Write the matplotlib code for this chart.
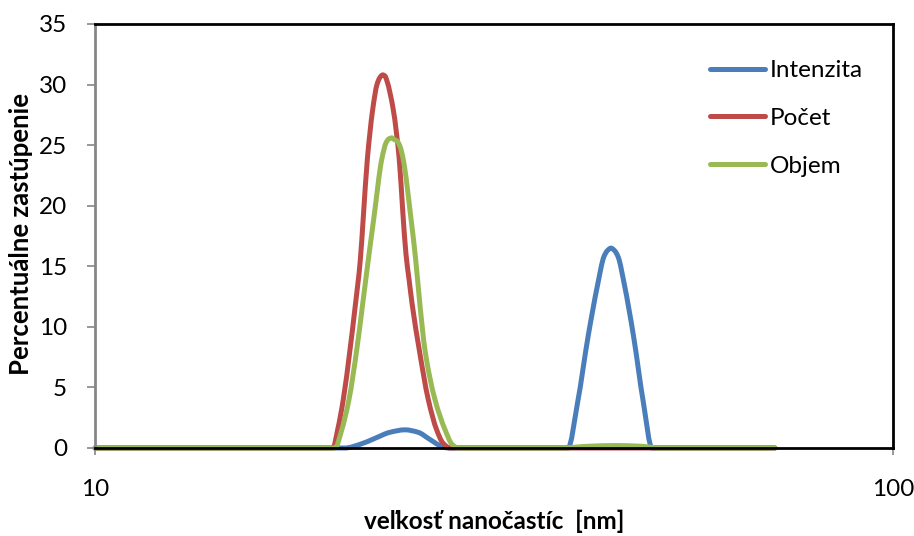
import numpy as np
import matplotlib
matplotlib.use("Agg")
import matplotlib.pyplot as plt
from matplotlib.path import Path
from matplotlib.patches import PathPatch
from matplotlib.lines import Line2D
from matplotlib.ticker import FixedLocator, NullLocator, FixedFormatter

plt.rcParams['font.family'] = ['Lato', 'DejaVu Sans']

# Particle size distribution (nm) for the three weightings
size_intenzita = [10.0, 20.57, 21.48, 22.43, 23.43, 24.46, 25.40, 26.29, 27.06, 27.70,
                  39.15, 40.26, 41.51, 42.65, 43.43, 43.87, 44.32, 44.77, 45.23, 46.06,
                  47.28, 48.65, 49.89, 71.13]
intenzita = [0, 0, 0.3, 0.8, 1.3, 1.5, 1.3, 0.7, 0.2, 0,
             0, 3.8, 9.3, 13.5, 15.8, 16.3, 16.5, 16.3, 15.8, 13.5,
             9.3, 3.8, 0, 0]

size_pocet = [10.0, 19.87, 20.14, 20.47, 20.87, 21.17, 21.50, 21.69, 21.94, 22.28,
              22.56, 22.76, 22.94, 23.09, 23.22, 23.65, 24.06, 24.30, 24.53, 24.75,
              24.98, 25.49, 26.16, 26.80, 27.30, 27.86, 71.13]
pocet = [0, 0, 1.5, 4.0, 8.1, 11.5, 15.5, 19.1, 23.8, 27.9,
         30.0, 30.6, 30.8, 30.7, 30.3, 27.9, 23.8, 19.6, 16.0, 13.9,
         11.8, 8.1, 4.0, 1.5, 0.4, 0, 0]

size_objem = [10.0, 19.99, 20.38, 20.81, 21.28, 21.64, 22.00, 22.37, 22.87, 23.16,
              23.33, 23.54, 23.73, 23.90, 24.11, 24.34, 24.87, 25.23, 25.54, 25.91,
              26.67, 27.46, 28.02, 28.51, 38.26, 41.72, 44.84, 48.19, 51.05, 71.13]
objem = [0, 0, 1.5, 4.0, 8.1, 11.8, 15.5, 19.1, 23.8, 25.2,
         25.5, 25.6, 25.45, 25.35, 24.9, 23.8, 19.1, 15.5, 11.8, 8.1,
         4.0, 1.5, 0.3, 0, 0, 0.15, 0.2, 0.15, 0, 0]

labels = ["Intenzita", "Počet", "Objem"]
sizes = [size_intenzita, size_pocet, size_objem]
values = [intenzita, pocet, objem]
colors = ["#4A7EBB", "#BE4B48", "#98B954"]

x_ticks = [10, 100]
x_tick_labels = ["10", "100"]
y_ticks = [0, 5, 10, 15, 20, 25, 30, 35]


def smooth_path(xs, ys):
    """Smoothed-line path through the points: monotone cubic (PCHIP) segments
    in log-x space, expressed as Bezier curves in data coordinates."""
    u = np.log10(np.asarray(xs, float))
    y = np.asarray(ys, float)
    h = np.diff(u)
    d = np.diff(y) / h
    n = len(u)
    m = np.zeros(n)
    for i in range(1, n - 1):
        if d[i - 1] * d[i] > 0:
            w1 = 2 * h[i] + h[i - 1]
            w2 = h[i] + 2 * h[i - 1]
            m[i] = (w1 + w2) / (w1 / d[i - 1] + w2 / d[i])
    verts = [(xs[0], y[0])]
    codes = [Path.MOVETO]
    for i in range(n - 1):
        c1 = (10 ** (u[i] + h[i] / 3), y[i] + m[i] * h[i] / 3)
        c2 = (10 ** (u[i + 1] - h[i] / 3), y[i + 1] - m[i + 1] * h[i] / 3)
        verts += [c1, c2, (xs[i + 1], y[i + 1])]
        codes += [Path.CURVE4] * 3
    return Path(verts, codes)


fig = plt.figure(figsize=(9.14, 5.36), dpi=100)
ax = fig.add_axes([95 / 914, 88 / 536, 798 / 914, 424 / 536])

ax.set_xscale("log")
ax.set_xlim(10, 100)
ax.set_ylim(0, 35)

LW = 3.6
handles = []
for name, xs, ys, col in zip(labels, sizes, values, colors):
    patch = PathPatch(smooth_path(xs, ys), fill=False, edgecolor=col, lw=LW,
                      joinstyle="round", capstyle="round", clip_on=False)
    ax.add_patch(patch)
    handles.append(Line2D([], [], color=col, lw=LW, solid_capstyle="round"))

ax.xaxis.set_major_locator(FixedLocator(x_ticks))
ax.xaxis.set_major_formatter(FixedFormatter(x_tick_labels))
ax.xaxis.set_minor_locator(NullLocator())
ax.set_yticks(y_ticks)

ax.tick_params(axis="y", direction="out", length=6, width=1.2, color="#868686",
               labelsize=17.5, pad=14)
ax.tick_params(axis="x", direction="out", length=5, width=1.2, color="#868686",
               labelsize=17.5, pad=17)

for side in ("top", "right", "bottom"):
    ax.spines[side].set_color("black")
    ax.spines[side].set_linewidth(2)
ax.spines["left"].set_color("#868686")
ax.spines["left"].set_linewidth(2)

ax.set_ylabel("Percentuálne zastúpenie", fontsize=18.5, fontweight="bold")
ax.yaxis.set_label_coords(-0.078, 0.505)
ax.set_xlabel("veľkosť nanočastíc  [nm]", fontsize=17.5, fontweight="bold")
ax.xaxis.set_label_coords(0.5, -0.146)

fig.legend(handles, labels, loc="upper left",
           bbox_to_anchor=(710 / 914, 1 - 60 / 536),
           frameon=False, fontsize=17.5, handlelength=2.26, handletextpad=0.2,
           labelspacing=1.11, borderpad=0, borderaxespad=0)

fig.savefig("out.png", dpi=100)
